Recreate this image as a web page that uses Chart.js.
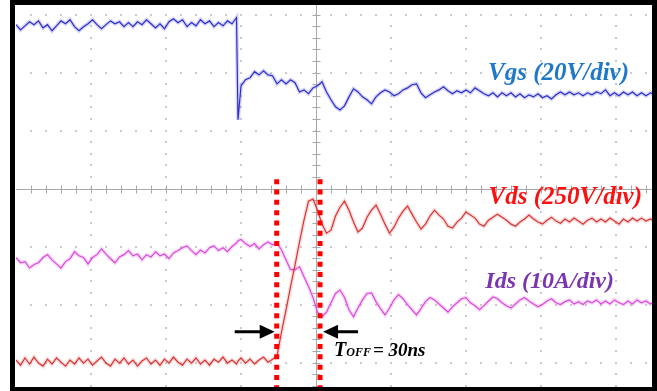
<!DOCTYPE html>
<html>
<head>
<meta charset="utf-8">
<script src="https://cdn.jsdelivr.net/npm/chart.js@4.4.1/dist/chart.umd.min.js"></script>
<style>
  html, body { margin: 0; padding: 0; background: #fff; }
</style>
</head>
<body>
<canvas id="chart" width="657" height="391"></canvas>
<script>
// time base of the capture, ns (0 = centre of screen, 50 ns/div)
const timeNs = [
  -200, -197, -194, -191, -188, -185, -182, -179, -176, -173,
  -170, -167, -164, -161, -158, -155, -152, -149, -146, -143,
  -140, -137, -134, -131, -128, -125, -122, -119, -116, -113,
  -110, -107, -104, -101, -98, -95, -92, -89, -86, -83,
  -80, -77, -74, -71, -68, -65, -62, -59, -56, -53,
  -52,
  -50, -47, -44, -41, -38, -35, -32, -29, -26, -23,
  -20, -17, -14, -11, -8, -5, -2, 1, 4, 7,
  10, 13, 16, 19, 22, 25, 28, 31, 34, 37,
  40, 43, 46, 49, 52, 55, 58, 61, 64, 67,
  70, 73, 76, 79, 82, 85, 88, 91, 94, 97,
  100, 103, 106, 109, 112, 115, 118, 121, 124, 127,
  130, 133, 136, 139, 142, 145, 148, 151, 154, 157,
  160, 163, 166, 169, 172, 175, 178, 181, 184, 187,
  190, 193, 196, 199, 202, 205, 208, 211, 214, 217,
  220, 223, 226
];

// gate-source voltage, V
const vgsVolts = [
  19.7, 17.9, 19.3, 20.7, 19.7, 21.0, 18.6, 19.7, 17.6, 19.3,
  21.0, 20.0, 21.4, 19.0, 17.6, 19.0, 20.0, 21.4, 19.7, 18.3,
  19.7, 21.0, 20.0, 20.7, 19.0, 20.4, 19.0, 20.7, 19.7, 21.4,
  20.0, 18.6, 20.0, 18.3, 20.7, 21.7, 20.4, 21.4, 19.0, 20.4,
  19.3, 21.4, 20.0, 21.0, 19.0, 20.4, 19.3, 21.0, 20.0, 22.1,
  -13.1,
  -1.4, 0.7, 1.4, 3.5, 2.4, 3.8, 2.4, 2.1, -0.7, 0.7,
  -0.7, 0.7, -0.3, -3.5, -2.8, -4.1, -2.1, -1.4, 0, -3.5,
  -6.2, -8.6, -9.7, -8.3, -5.2, -2.4, -3.5, -5.2, -6.2, -7.6,
  -5.2, -3.8, -2.8, -3.5, -4.8, -4.1, -2.8, -2.1, -1.0, -0.7,
  -3.8, -5.5, -4.5, -3.5, -2.8, -1.7, -3.1, -4.1, -3.1, -3.8,
  -2.8, -3.8, -2.1, -3.1, -4.1, -4.8, -3.8, -5.2, -3.8, -4.8,
  -3.8, -5.2, -4.1, -5.5, -4.5, -5.2, -4.1, -5.5, -4.8, -5.9,
  -4.5, -3.5, -4.5, -3.5, -4.5, -3.8, -4.8, -3.8, -4.5, -3.5,
  -4.1, -2.8, -4.8, -3.8, -4.8, -3.5, -4.5, -3.5, -4.8, -3.8,
  -4.8, -3.8, -4.5
];

// drain-source voltage, V
const vdsVolts = [
  13, -9, 22, -4, 26, 0, -13, 17, -4, 22,
  4, -13, 13, -4, 22, 0, 17, -9, 9, 26,
  0, -13, 17, 0, 22, -4, 13, -13, 9, 22,
  -4, 13, -9, 17, 0, 26, 4, -9, 17, 0,
  22, -4, 13, -9, 17, 4, 26, 0, 13, -4,
  9,
  22, 0, 17, -4, 13, 26, 4, 17, 30, 134,
  228, 328, 422, 522, 616, 698, 707, 659, 599, 560,
  573, 634, 672, 698, 659, 608, 565, 582, 629, 659,
  681, 642, 599, 560, 586, 625, 655, 677, 642, 608,
  578, 599, 634, 659, 638, 621, 590, 582, 608, 625,
  651, 638, 625, 599, 590, 616, 629, 642, 629, 616,
  599, 590, 608, 621, 638, 621, 608, 599, 616, 629,
  612, 603, 621, 608, 625, 612, 599, 616, 625, 608,
  621, 608, 625, 612, 599, 621, 608, 625, 612, 625,
  612, 621, 612
];

// drain-source current, A
const idsAmps = [
  7.8, 6.9, 7.1, 6.0, 6.6, 6.9, 7.8, 8.3, 7.4, 6.7,
  6.0, 7.1, 7.6, 8.8, 8.1, 7.8, 6.7, 7.8, 8.3, 9.3,
  8.4, 7.6, 6.9, 7.9, 8.3, 9.0, 8.1, 8.4, 7.4, 8.3,
  7.9, 8.8, 8.1, 8.4, 7.6, 8.6, 9.0, 9.5, 9.8, 9.0,
  8.3, 9.1, 8.6, 9.5, 9.8, 9.0, 9.5, 8.8, 9.7, 10.3,
  10.7,
  10.9, 10.2, 9.7, 10.2, 9.3, 10.0, 10.5, 10.0, 10.3, 9.1,
  7.4, 5.7, 5.7, 6.2, 4.5, 2.8, 0.9, -1.6, -2.4, -1.6,
  0, 1.6, 2.2, 0.9, -1.2, -2.4, -0.9, 0.5, 1.6, 1.7,
  0.2, -1.0, -2.1, -0.9, 0.5, 1.4, 0.7, -0.3, -1.2, -2.1,
  -1.0, 0.2, 0.9, 0.5, -0.2, -0.9, -1.6, -0.7, 0, 0.7,
  0.9, 0, -0.5, -1.2, -0.5, 0.3, 1.0, 0.7, 0, -0.5,
  -0.9, -0.2, 0.5, 0.9, 0.3, -0.2, -0.7, -0.3, 0.3, 0.7,
  0, -0.3, 0.2, 0.5, -0.2, 0.2, -0.3, 0.3, 0, 0.5,
  -0.2, 0.3, -0.2, 0.5, 0, -0.3, 0.3, -0.2, 0.5, 0,
  0.3, -0.2, 0.2
];

// scope channel settings: units per div and ground marker position (div from centre)
const vgsPerDiv = 20, vgsGround = 1.84;
const vdsPerDiv = 250, vdsGround = -3.01;
const idsPerDiv = 10, idsGround = -1.97;

// turn-off interval markers, ns
const toffMarks = [-26.2, 2.7];

function toDiv(values, perDiv, ground) {
  return timeNs.map((t, i) => ({ x: t, y: ground + values[i] / perDiv }));
}

// trace = thin core line on top of a faint wide halo, like the scope's persistence
function trace(label, data, core, halo) {
  return [
    { label: label + ' halo', data, borderColor: halo, borderWidth: 4 },
    { label, data, borderColor: core, borderWidth: 1.2 }
  ];
}

// scope screen: dotted graticule, centre cross with minor ticks
const graticule = {
  id: 'graticule',
  beforeDatasetsDraw(chart) {
    const { ctx, chartArea: a, scales: { x, y } } = chart;
    ctx.save();
    ctx.fillStyle = '#cacaca';
    for (let d = -3; d <= 3; d++) {
      if (d === 0) continue;
      const py = Math.round(y.getPixelForValue(d));
      for (let t = -190; t <= 220; t += 10) {
        ctx.fillRect(Math.round(x.getPixelForValue(t)) - 1, py - 1, 2, 2);
      }
    }
    for (let t = -150; t <= 200; t += 50) {
      if (t === 0) continue;
      const px = Math.round(x.getPixelForValue(t));
      for (let k = -17; k <= 15; k++) {
        ctx.fillRect(px - 1, Math.round(y.getPixelForValue(k / 5)) - 1, 2, 2);
      }
    }
    // centre cross
    const cx = Math.round(x.getPixelForValue(0)) + 0.5;
    const cy = Math.round(y.getPixelForValue(0)) + 0.5;
    ctx.strokeStyle = '#a8a8a8';
    ctx.lineWidth = 1;
    ctx.beginPath();
    ctx.moveTo(a.left, cy); ctx.lineTo(a.right, cy);
    ctx.moveTo(cx, a.top); ctx.lineTo(cx, a.bottom);
    for (let t = -190; t <= 220; t += 10) {
      const px = Math.round(x.getPixelForValue(t)) + 0.5;
      ctx.moveTo(px, cy - 4); ctx.lineTo(px, cy + 4);
    }
    for (let k = -17; k <= 15; k++) {
      const py = Math.round(y.getPixelForValue(k / 5)) + 0.5;
      ctx.moveTo(cx - 4, py); ctx.lineTo(cx + 4, py);
    }
    ctx.stroke();
    ctx.restore();
  },
  afterDatasetsDraw(chart) {
    const { ctx, chartArea: a, scales: { x, y } } = chart;
    ctx.save();
    // red dotted T_OFF markers
    ctx.strokeStyle = '#ff0000';
    ctx.lineWidth = 5;
    ctx.setLineDash([5, 5.3]);
    const top = y.getPixelForValue(0.16);
    toffMarks.forEach(t => {
      const px = x.getPixelForValue(t);
      ctx.beginPath();
      ctx.moveTo(px, top);
      ctx.lineTo(px, a.bottom);
      ctx.stroke();
    });
    ctx.setLineDash([]);

    // arrows pointing at the markers
    const ay = y.getPixelForValue(-2.47);
    const p1 = x.getPixelForValue(toffMarks[0]) - 2;
    const p2 = x.getPixelForValue(toffMarks[1]) + 3;
    ctx.fillStyle = '#000';
    ctx.strokeStyle = '#000';
    ctx.lineWidth = 3;
    ctx.beginPath();
    ctx.moveTo(p1 - 40, ay); ctx.lineTo(p1 - 12, ay);
    ctx.moveTo(p2 + 12, ay); ctx.lineTo(p2 + 35, ay);
    ctx.stroke();
    ctx.beginPath();
    ctx.moveTo(p1, ay); ctx.lineTo(p1 - 15, ay - 7); ctx.lineTo(p1 - 15, ay + 7); ctx.closePath();
    ctx.moveTo(p2, ay); ctx.lineTo(p2 + 15, ay - 7); ctx.lineTo(p2 + 15, ay + 7); ctx.closePath();
    ctx.fill();

    // channel labels, right edges as on the screenshot
    ctx.textBaseline = 'alphabetic';
    ctx.textAlign = 'right';
    ctx.font = 'italic bold 25px "Liberation Serif"';
    ctx.fillStyle = '#1f78c8';
    ctx.fillText('Vgs (20V/div)', 629, 80);
    ctx.fillStyle = '#ff1010';
    ctx.fillText('Vds (250V/div)', 642, 204);
    ctx.font = 'italic bold 24px "Liberation Serif"';
    ctx.fillStyle = '#7a35b0';
    ctx.fillText('Ids (10A/div)', 614, 288);

    ctx.textAlign = 'left';
    ctx.fillStyle = '#000';
    let tx = 334;
    ctx.font = 'italic bold 20px "Liberation Serif"';
    ctx.fillText('T', tx, 356);
    tx += ctx.measureText('T').width;
    ctx.font = 'italic bold 12px "Liberation Serif"';
    ctx.fillText('OFF', tx, 356);
    tx += ctx.measureText('OFF').width + 2;
    ctx.font = 'italic bold 19px "Liberation Serif"';
    ctx.fillText('= 30ns', tx, 356);

    // black screen frame
    ctx.fillRect(a.left - 6, 0, 5, chart.height);
    ctx.fillRect(a.left - 6, 0, chart.width - a.left + 6, a.top);
    ctx.fillRect(a.right, 0, chart.width - a.right, chart.height);
    ctx.fillRect(a.left - 6, a.bottom, chart.width - a.left + 6, chart.height - a.bottom);
    ctx.restore();
  }
};

new Chart(document.getElementById('chart'), {
  type: 'line',
  data: {
    datasets: [
      ...trace('Vgs', toDiv(vgsVolts, vgsPerDiv, vgsGround), '#2626c8', 'rgba(70,70,220,0.22)'),
      ...trace('Vds', toDiv(vdsVolts, vdsPerDiv, vdsGround), '#d42828', 'rgba(230,90,90,0.22)'),
      ...trace('Ids', toDiv(idsAmps, idsPerDiv, idsGround), '#d63cd6', 'rgba(230,110,230,0.25)')
    ]
  },
  options: {
    responsive: false,
    animation: false,
    devicePixelRatio: 1,
    layout: { padding: { left: 16, right: 5, top: 5, bottom: 4 } },
    plugins: { legend: { display: false }, tooltip: { enabled: false } },
    elements: {
      point: { radius: 0 },
      line: { tension: 0 }
    },
    scales: {
      x: { type: 'linear', min: -200, max: 224, display: false },
      y: { type: 'linear', min: -3.422, max: 3.164, display: false }
    }
  },
  plugins: [graticule]
});
</script>
</body>
</html>
